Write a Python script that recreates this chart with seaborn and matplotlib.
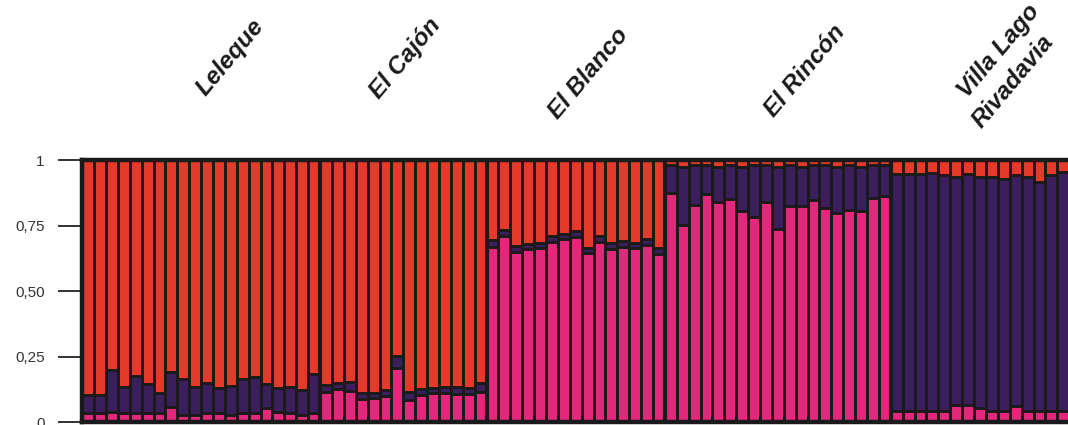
import numpy as np
import pandas as pd
import matplotlib
matplotlib.use("Agg")
import matplotlib.pyplot as plt
import matplotlib.transforms as mtransforms
import seaborn as sns

# populations and how many individuals each has
populations = ["Leleque", "El Cajón", "El Blanco", "El Rincón", "Villa Lago\nRivadavia"]
pop_sizes = [20, 14, 15, 19, 15]

# membership proportions: cluster 1 (pink, bottom) and cluster 2 (purple, middle)
# cluster 3 (red, top) is the remainder to 1
leleque_pink = [0.035, 0.035, 0.04, 0.035, 0.035, 0.035, 0.035, 0.06, 0.03, 0.03,
                0.035, 0.035, 0.03, 0.035, 0.035, 0.055, 0.04, 0.035, 0.03, 0.035]
leleque_purple = [0.07, 0.07, 0.16, 0.10, 0.143, 0.112, 0.076, 0.134, 0.137, 0.106,
                  0.114, 0.095, 0.11, 0.13, 0.137, 0.092, 0.09, 0.101, 0.094, 0.149]

cajon_pink = [0.117, 0.126, 0.121, 0.088, 0.092, 0.101, 0.206, 0.086, 0.105, 0.111,
              0.114, 0.108, 0.108, 0.117]
cajon_purple = [0.026, 0.023, 0.034, 0.023, 0.022, 0.023, 0.047, 0.031, 0.022, 0.022,
                0.022, 0.028, 0.025, 0.032]

blanco_pink = [0.670, 0.710, 0.651, 0.661, 0.663, 0.689, 0.698, 0.705, 0.644, 0.689,
               0.661, 0.670, 0.663, 0.676, 0.642]
blanco_purple = [0.025, 0.023, 0.021, 0.019, 0.022, 0.021, 0.022, 0.025, 0.021, 0.021,
                 0.022, 0.023, 0.022, 0.024, 0.023]

rincon_pink = [0.873, 0.752, 0.829, 0.870, 0.841, 0.850, 0.806, 0.782, 0.841, 0.736,
               0.825, 0.825, 0.848, 0.816, 0.80, 0.81, 0.806, 0.854, 0.863]
rincon_purple = [0.107, 0.223, 0.151, 0.11, 0.134, 0.13, 0.169, 0.198, 0.139, 0.239,
                 0.155, 0.15, 0.132, 0.164, 0.175, 0.17, 0.169, 0.126, 0.117]

villa_pink = [0.045, 0.045, 0.045, 0.045, 0.045, 0.067, 0.065, 0.055, 0.045, 0.045,
              0.063, 0.045, 0.045, 0.045, 0.045]
villa_purple = [0.902, 0.902, 0.902, 0.905, 0.898, 0.87, 0.882, 0.88, 0.892, 0.881,
                0.88, 0.892, 0.87, 0.898, 0.91]

ytick_vals = [0, 0.25, 0.5, 0.75, 1]
ytick_labels = ["0", "0,25", "0,50", "0,75", "1"]

pink = np.array(leleque_pink + cajon_pink + blanco_pink + rincon_pink + villa_pink)
purple = np.array(leleque_purple + cajon_purple + blanco_purple + rincon_purple + villa_purple)
red = 1 - pink - purple

df = pd.DataFrame({
    "ind": np.arange(len(pink)),
    "pink": pink,
    "purple_top": pink + purple,
    "red_top": pink + purple + red,
})

c_red = "#E5392A"
c_purple = "#3B1F5C"
c_pink = "#E3287B"
c_edge = "#1b1a1a"

sns.set_style("white")
plt.rcParams["font.family"] = ["Liberation Sans", "DejaVu Sans"]

fig = plt.figure(figsize=(10.68, 4.25), dpi=100)
ax = fig.add_axes([0.077, 0.0059, 0.923, 0.6176])

for col, colr in [("red_top", c_red), ("purple_top", c_purple), ("pink", c_pink)]:
    sns.barplot(data=df, x="ind", y=col, color=colr, width=1.0, saturation=1,
                edgecolor=c_edge, linewidth=2.1, ax=ax)

# population separators
bounds = np.cumsum(pop_sizes)[:-1] - 0.5
for b in bounds:
    ax.axvline(b, color=c_edge, lw=3)

ax.set_xlim(-0.5, 82.4)
ax.set_ylim(0, 1)
ax.set_xlabel("")
ax.set_ylabel("")
ax.set_xticks([])
ax.set_yticks(ytick_vals)
ax.set_yticklabels(ytick_labels, color="#333333", fontsize=11)
ax.tick_params(axis="y", length=17, width=1.3, color="#222222", pad=10, left=True)
for s in ["left", "top", "bottom"]:
    ax.spines[s].set_color(c_edge)
    ax.spines[s].set_linewidth(3.2)
ax.spines["right"].set_visible(False)

# rotated population labels
trans = mtransforms.blended_transform_factory(ax.transData, ax.transAxes)
label_x = [9.85, 24.45, 39.55, 57.65, 73.9]
label_y = [1.24, 1.229, 1.152, 1.16, 1.235]
for name, lx, ly in zip(populations, label_x, label_y):
    lines = name.split("\n")
    ax.text(lx, ly, lines[0], transform=trans, rotation=50, rotation_mode="anchor",
            ha="left", va="baseline", fontsize=17.5, fontweight="bold", style="italic",
            color="#1a1a1a", clip_on=False)
    if len(lines) > 1:
        ax.text(lx + 1.2, ly - 0.118, lines[1], transform=trans, rotation=50,
                rotation_mode="anchor", ha="left", va="baseline", fontsize=17.5,
                fontweight="bold", style="italic", color="#1a1a1a", clip_on=False)

fig.savefig("out.png", dpi=100, facecolor="white")
